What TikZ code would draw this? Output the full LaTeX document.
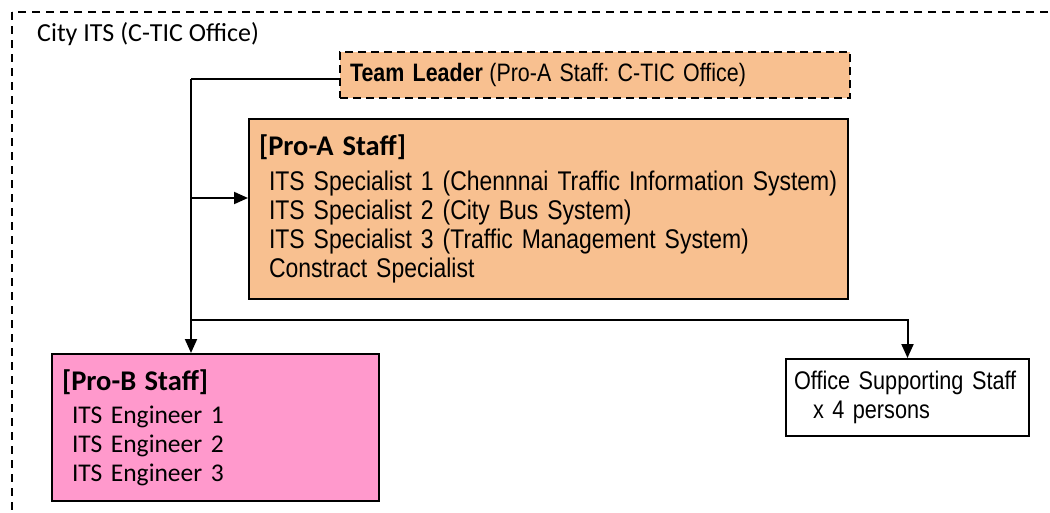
\documentclass[tikz,border=0pt]{standalone}
\usepackage{fontspec}
\setmainfont{Liberation Sans}
\newfontfamily\narrowfont{Liberation Sans}[FakeStretch=0.85]
\newfontfamily\calfont{Carlito}
\usetikzlibrary{arrows.meta}
\definecolor{peach}{HTML}{F8C090}
\definecolor{pinkbox}{HTML}{FF99CC}
\frenchspacing
\begin{document}
\begin{tikzpicture}[x=1pt,y=-1pt,
  box/.style={draw=black,line width=2pt,anchor=north west,inner sep=0pt,align=left},
  conn/.style={line width=2pt},
  arr/.style={conn,-{Triangle[length=14pt,width=12pt]}},
  narrowtext/.style={font=\narrowfont\fontsize{27}{29}\selectfont},
  caltext/.style={font=\calfont\fontsize{25.5}{29}\selectfont}]
\useasboundingbox (0,0) rectangle (1050,512);
\clip (0,0) rectangle (1050,512);
\draw[line width=2.2pt,dash pattern=on 8pt off 6pt] (12,12) rectangle (1080,540);
\node[anchor=west,font=\calfont\fontsize{26}{28}\selectfont,inner sep=0pt] (title) at (37,34) {City ITS (C-TIC Office)};
\node[box,fill=peach,dash pattern=on 8pt off 5pt,minimum width=510pt,minimum height=46pt,text width=490pt,font=\narrowfont\fontsize{25.2}{29}\selectfont] (tl) at (339,51)
  {\textbf{Team Leader}\hspace{-2pt} (Pro-A Staff: C-TIC Office)};
\node[box,fill=peach,minimum width=599pt,minimum height=180pt,text width=579pt,narrowtext] (pa) at (248,118)
  {{\calfont\bfseries\fontsize{28.5}{29}\selectfont [Pro-A Staff]}\\[6pt]
   \hspace*{10pt}ITS Specialist 1 (Chennnai Traffic Information System)\\
   \hspace*{10pt}ITS Specialist 2 (City Bus System)\\
   \hspace*{10pt}ITS Specialist 3 (Traffic Management System)\\
   \hspace*{10pt}Constract Specialist};
\node[box,fill=pinkbox,minimum width=327pt,minimum height=147pt,text width=307pt,caltext] (pb) at (51,353)
  {{\bfseries\fontsize{28.5}{29}\selectfont [Pro-B Staff]}\\[4pt]
   \hspace*{10pt}ITS Engineer 1\\
   \hspace*{10pt}ITS Engineer 2\\
   \hspace*{10pt}ITS Engineer 3};
\node[box,fill=white,minimum width=243pt,minimum height=77pt,text width=237pt,font=\narrowfont\fontsize{25.5}{29}\selectfont] (os) at (785,358)
  {\hspace*{5pt}Office Supporting Staff\\
   \hspace*{24pt}x 4 persons};
\coordinate (trunk) at (191,79);
\coordinate (pajoin) at (191,198);
\coordinate (osjoin) at (191,320);
\draw[conn] (tl.west |- trunk) -- (trunk);
\draw[arr] (trunk) -- (trunk |- pb.north);
\draw[arr] (pajoin) -- (pajoin -| pa.west);
\draw[arr] (osjoin) -| (os.north);
\end{tikzpicture}
\end{document}
